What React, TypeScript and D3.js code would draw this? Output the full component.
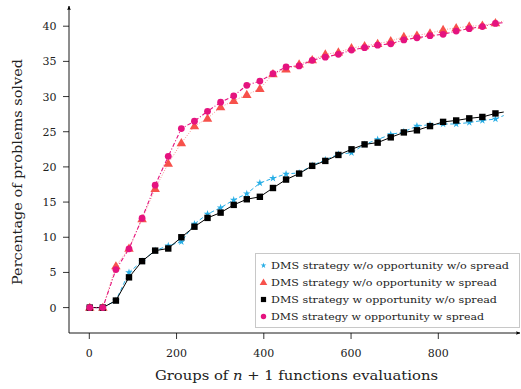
import React from "react";
import * as d3 from "d3";

const evals = [1, 31, 61, 91, 121, 151, 181, 211, 241, 271, 301, 331, 361, 391, 421, 451, 481, 511, 541, 571, 601, 631, 661, 691, 721, 751, 781, 811, 841, 871, 901, 931];
const lastEval = 950;

const woOppWoSpread = [0, 0, 1.0, 5.0, 6.6, 8.1, 8.8, 9.35, 11.9, 13.3, 14.2, 15.3, 16.2, 17.7, 18.4, 19.0, 19.15, 20.2, 21.0, 21.8, 22.0, 23.2, 23.9, 24.6, 25.0, 25.8, 26.0, 26.1, 26.1, 26.3, 26.6, 26.8];
const woOppWoSpreadEnd = 27.3;
const woOppWSpread = [0, 0, 5.9, 8.4, 12.6, 16.9, 20.5, 23.4, 25.8, 26.9, 28.5, 29.4, 30.25, 31.1, 33.2, 33.9, 34.6, 35.2, 36.0, 36.3, 36.9, 37.2, 37.5, 37.9, 38.5, 38.7, 39.0, 39.5, 39.75, 40.0, 40.1, 40.45];
const woOppWSpreadEnd = 40.75;
const wOppWoSpread = [0, 0, 1.0, 4.3, 6.6, 8.1, 8.4, 10.0, 11.5, 12.75, 13.5, 14.6, 15.4, 15.75, 17.0, 18.2, 19.05, 20.15, 20.85, 21.7, 22.5, 23.2, 23.45, 24.2, 24.9, 25.2, 25.8, 26.4, 26.6, 26.9, 27.1, 27.6];
const wOppWoSpreadEnd = 27.8;
const wOppWSpread = [0, 0, 5.4, 8.35, 12.7, 17.4, 21.5, 25.45, 26.5, 27.9, 29.2, 30.1, 31.6, 32.2, 33.25, 34.2, 34.35, 35.15, 35.6, 36.0, 36.6, 36.95, 37.3, 37.5, 38.05, 38.35, 38.65, 38.85, 39.3, 39.65, 39.95, 40.4];
const wOppWSpreadEnd = 40.5;

const xTicks = [0, 200, 400, 600, 800];
const yTicks = [0, 5, 10, 15, 20, 25, 30, 35, 40];
const seriesNames = [
  "DMS strategy w/o opportunity w/o spread",
  "DMS strategy w/o opportunity w spread",
  "DMS strategy w opportunity w/o spread",
  "DMS strategy w opportunity w spread",
];

const FONT = "'DejaVu Serif', serif";

const x = d3.scaleLinear().domain([0, 800]).range([89.3, 438.3]);
const y = d3.scaleLinear().domain([0, 40]).range([307.6, 26.2]);

type Kind = "star" | "tri" | "sq" | "circ";

function Marker({ kind, cx, cy, s, color }: { kind: Kind; cx: number; cy: number; s: number; color: string }) {
  if (kind === "circ") return <circle cx={cx} cy={cy} r={s} fill={color} />;
  if (kind === "sq") return <rect x={cx - s} y={cy - s} width={2 * s} height={2 * s} fill={color} />;
  if (kind === "tri") {
    const p = d3.symbol(d3.symbolTriangle, s * s * 3.2)();
    return <path d={p || ""} transform={`translate(${cx},${cy + s * 0.15})`} fill={color} />;
  }
  const pts: string[] = [];
  for (let i = 0; i < 10; i++) {
    const a = -Math.PI / 2 + (i * Math.PI) / 5;
    const r = i % 2 === 0 ? s : s * 0.38;
    pts.push(`${cx + r * Math.cos(a)},${cy + r * Math.sin(a)}`);
  }
  return <polygon points={pts.join(" ")} fill={color} />;
}

export default function App() {
  const series = [
    { vals: woOppWoSpread, end: woOppWoSpreadEnd, color: "#27aee6", lineColor: "#27aee6", dash: "4,2.5", width: 1, kind: "star" as Kind, size: 4 },
    { vals: woOppWSpread, end: woOppWSpreadEnd, color: "#f7514b", lineColor: "#f79490", dash: "1,1.6", width: 1, kind: "tri" as Kind, size: 3.5 },
    { vals: wOppWoSpread, end: wOppWoSpreadEnd, color: "#000000", lineColor: "#000000", dash: "", width: 1, kind: "sq" as Kind, size: 3.2 },
    { vals: wOppWSpread, end: wOppWSpreadEnd, color: "#e5137f", lineColor: "#e5137f", dash: "4,2,1,2", width: 1.1, kind: "circ" as Kind, size: 3.4 },
  ];
  const line = d3.line<[number, number]>().x((d) => x(d[0])).y((d) => y(d[1]));
  const axisY = 333;
  const axisX = 69;

  return (
    <svg width={521} height={389} style={{ position: "absolute", left: 0, top: 0, background: "#fff" }}>
      <defs>
        <marker id="arr" viewBox="0 0 10 10" refX="9" refY="5" markerWidth="5" markerHeight="5" orient="auto">
          <path d="M0,1 L10,5 L0,9 Q3,5 0,1 Z" fill="#000" />
        </marker>
      </defs>
      <line x1={axisX} y1={axisY} x2={520} y2={axisY} stroke="#000" strokeWidth={0.9} markerEnd="url(#arr)" />
      <line x1={axisX} y1={axisY} x2={axisX} y2={6} stroke="#000" strokeWidth={0.9} markerEnd="url(#arr)" />
      {xTicks.map((t) => (
        <g key={"x" + t}>
          <line x1={x(t)} x2={x(t)} y1={axisY} y2={axisY + 6} stroke="#000" strokeWidth={0.8} />
          <text x={x(t)} y={356.5} fontFamily={FONT} fontSize={11} textAnchor="middle" fill="#222">{t}</text>
        </g>
      ))}
      {yTicks.map((t) => (
        <g key={"y" + t}>
          <line x1={axisX - 6} x2={axisX} y1={y(t)} y2={y(t)} stroke="#000" strokeWidth={0.8} />
          <text x={56.5} y={y(t) + 4} fontFamily={FONT} fontSize={11} textAnchor="end" fill="#222">{t}</text>
        </g>
      ))}
      <text x={155} y={380} fontFamily={FONT} fontSize={13.5} textLength={283} lengthAdjust="spacingAndGlyphs" fill="#222">
        Groups of <tspan fontStyle="italic">n</tspan> + 1 functions evaluations
      </text>
      <text transform="translate(22,172) rotate(-90)" fontFamily={FONT} fontSize={13.5} textAnchor="middle" textLength={226} lengthAdjust="spacingAndGlyphs" fill="#222">
        Percentage of problems solved
      </text>
      {series.map((s, i) => {
        const pts: [number, number][] = s.vals.map((v, j) => [evals[j], v]);
        pts.push([lastEval, s.end]);
        return (
          <path key={"l" + i} d={line(pts) || ""} fill="none" stroke={s.lineColor} strokeWidth={s.width} strokeDasharray={s.dash || undefined} />
        );
      })}
      {series.map((s, i) => (
        <g key={"m" + i}>
          {s.vals.map((v, j) => (
            <Marker key={j} kind={s.kind} cx={x(evals[j])} cy={y(v)} s={s.size} color={s.color} />
          ))}
        </g>
      ))}
      <rect x={255.5} y={253.5} width={264} height={74} fill="#fff" stroke="#c8c8c8" strokeWidth={1} />
      {series.map((s, i) => (
        <g key={"lg" + i}>
          <Marker kind={s.kind} cx={263.5} cy={265.5 + i * 17} s={s.kind === "star" ? 3 : s.kind === "tri" ? 2.8 : s.kind === "sq" ? 2.6 : 2.7} color={s.color} />
          <text x={271} y={269 + i * 17} fontFamily={FONT} fontSize={9.6} fill="#222" textLength={s.kind === "star" ? 238 : s.kind === "tri" ? 226 : s.kind === "sq" ? 226 : 213} lengthAdjust="spacingAndGlyphs">{seriesNames[i]}</text>
        </g>
      ))}
    </svg>
  );
}
